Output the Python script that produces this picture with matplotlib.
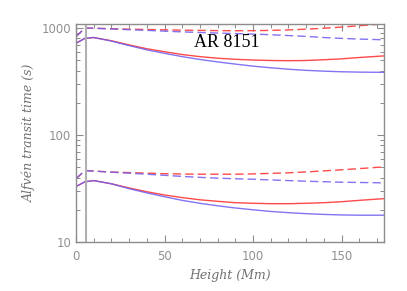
import matplotlib
matplotlib.use("Agg")
import matplotlib.pyplot as plt
from matplotlib.ticker import FixedLocator, NullFormatter, LogLocator, MultipleLocator

height = [0, 5, 10, 20, 30, 40, 50, 60, 70, 80, 90, 100, 110, 120, 130, 140, 150, 160, 175]

up_solid_red = [720, 800, 815, 760, 695, 640, 600, 565, 540, 522, 510, 502, 497, 495, 497, 505, 515, 530, 550]
up_solid_blue = [720, 800, 815, 755, 685, 625, 580, 540, 508, 482, 460, 440, 425, 412, 402, 395, 390, 387, 385]
up_dash_red = [830, 1000, 995, 985, 975, 968, 962, 955, 950, 945, 943, 944, 950, 960, 975, 995, 1020, 1050, 1095]
up_dash_blue = [830, 1000, 995, 980, 965, 950, 935, 920, 908, 897, 887, 878, 865, 850, 835, 815, 800, 788, 775]
lo_dash_red = [39, 46.5, 46, 45, 44.5, 44, 43.5, 43.2, 43, 43, 43, 43.3, 43.8, 44.3, 45.2, 46.2, 47.3, 48.5, 50.5]
lo_dash_blue = [39, 46.5, 46, 45, 44, 43, 42, 41, 40.2, 39.5, 39, 38.6, 38, 37.5, 37, 36.6, 36.2, 36, 35.7]
lo_solid_red = [33, 36.5, 37.5, 35, 32, 29.5, 27.5, 26, 24.8, 24, 23.3, 23, 22.8, 22.8, 23, 23.3, 23.8, 24.5, 25.5]
lo_solid_blue = [33, 36.5, 37.5, 35, 31.5, 28.8, 26.5, 24.5, 23, 21.8, 20.8, 20, 19.3, 18.8, 18.4, 18.1, 17.9, 17.8, 17.8]

marker_height = 5.5
label_text = "AR 8151"
xticks = [0, 50, 100, 150]
yticks = [10, 100, 1000]

fig = plt.figure(figsize=(4.07, 2.91), dpi=100)
ax = fig.add_axes([76/407, 1-242/291, (384-76)/407, (242-24)/291])

red = '#ff4a4a'
blue = '#6c5cf0'
lw = 1.0
dash = (0, (6, 3))

ax.plot(height, up_solid_red, color=red, lw=lw)
ax.plot(height, up_solid_blue, color=blue, lw=lw, alpha=0.85)
ax.plot(height, up_dash_red, color=red, lw=lw, ls=dash)
ax.plot(height, up_dash_blue, color=blue, lw=lw, ls=dash, alpha=0.85)
ax.plot(height, lo_dash_red, color=red, lw=lw, ls=dash)
ax.plot(height, lo_dash_blue, color=blue, lw=lw, ls=dash, alpha=0.85)
ax.plot(height, lo_solid_red, color=red, lw=lw)
ax.plot(height, lo_solid_blue, color=blue, lw=lw, alpha=0.85)

ax.axvline(marker_height, color='#b0b0b0', lw=1.5)

ax.set_yscale('log')
ax.set_xlim(0, 174)
ax.set_ylim(10, 1090)

gray = '#8c8c8c'
for s in ax.spines.values():
    s.set_color(gray)
    s.set_linewidth(1.0)

ax.xaxis.set_major_locator(FixedLocator(xticks))
ax.xaxis.set_minor_locator(MultipleLocator(10))
ax.yaxis.set_major_locator(FixedLocator(yticks))
ax.yaxis.set_minor_locator(LogLocator(base=10, subs=range(2, 10)))
ax.yaxis.set_minor_formatter(NullFormatter())
ax.set_yticklabels([str(v) for v in yticks])
ax.set_xticklabels([str(v) for v in xticks])

ax.tick_params(which='both', direction='in', top=True, right=True, colors=gray,
               labelcolor='#909090', labelsize=8.5)
ax.tick_params(which='major', length=5, width=0.8)
ax.tick_params(which='minor', length=3, width=0.7)
ax.tick_params(axis='x', pad=6)

ax.set_xlabel('Height (Mm)', family='DejaVu Serif', style='italic', fontsize=9,
              color='#707070', labelpad=4)
ax.set_ylabel('Alfvén transit time (s)', family='DejaVu Serif', style='italic', fontsize=9,
              color='#707070', labelpad=4)

ax.text(85, 730, label_text, family='Liberation Serif', fontsize=13, ha='center', va='center',
        color='black')

fig.savefig('out.png', dpi=100)
